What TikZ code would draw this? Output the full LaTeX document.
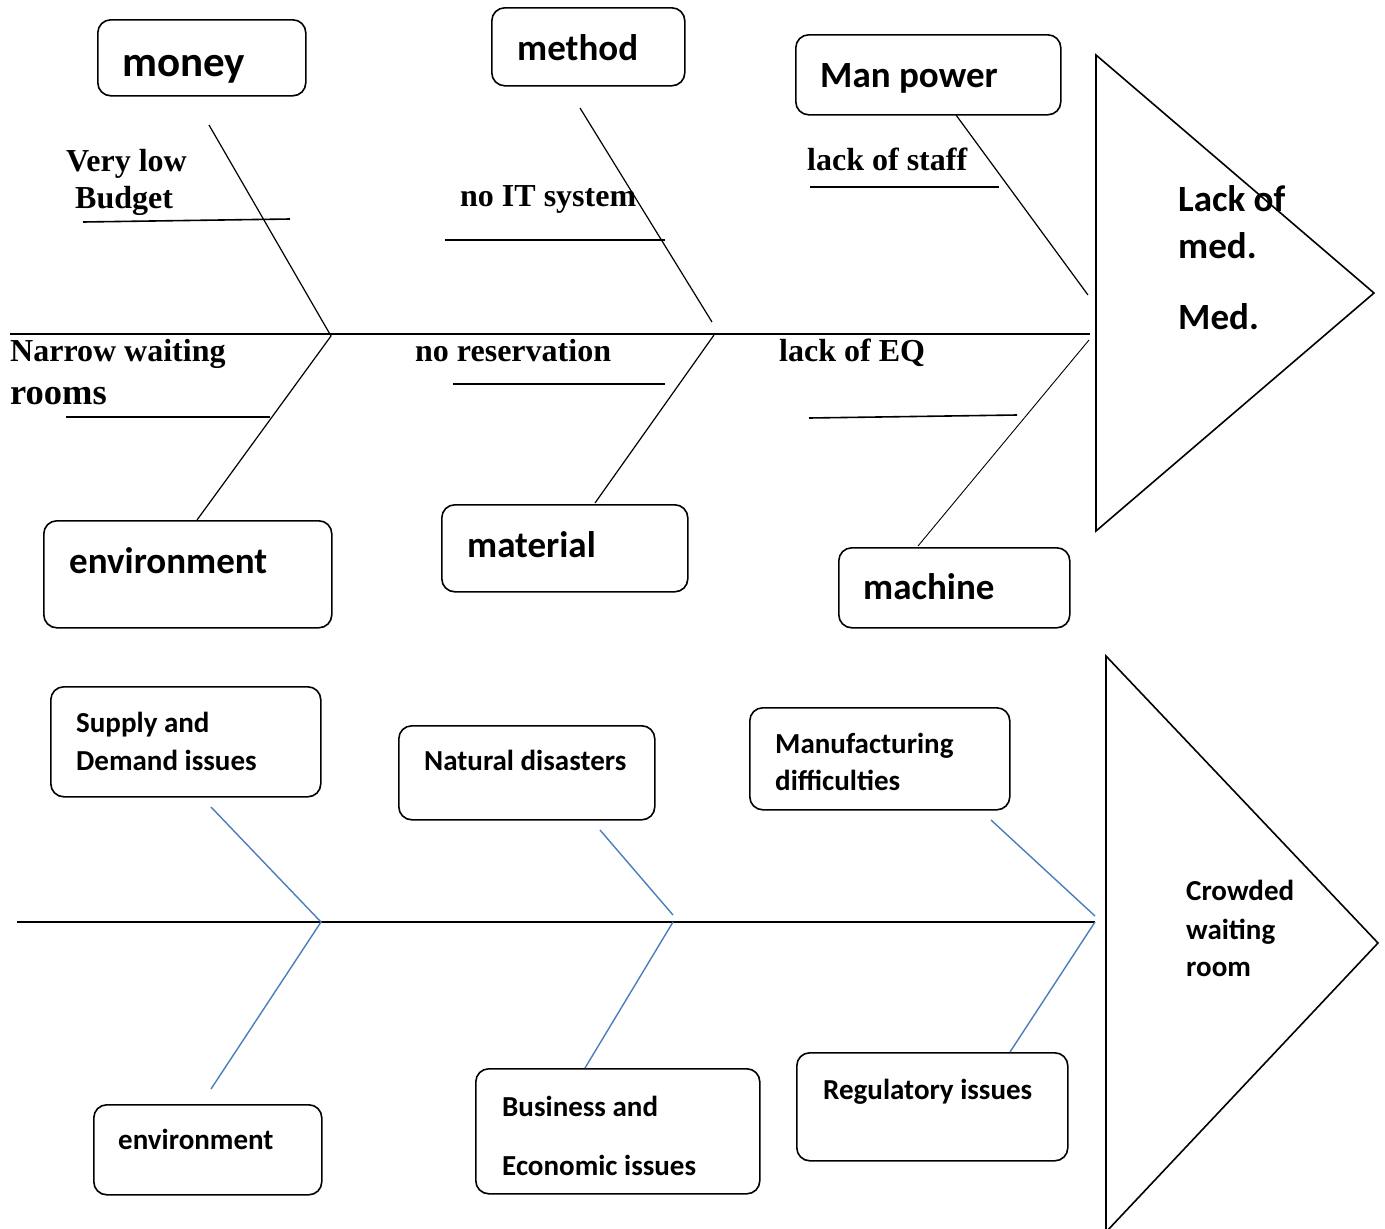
\documentclass[tikz,border=0pt]{standalone}
\usepackage{fontspec}
\setmainfont{Carlito}
\newfontfamily\tnr{Liberation Serif}
\definecolor{boneblue}{HTML}{4A7EBB}
\tikzset{
  box/.style={draw, line width=1.6pt, rounded corners=13pt, inner sep=0pt, anchor=north west},
  bone/.style={line width=1.2pt},
  uline/.style={line width=1.6pt},
  bbone/.style={draw=boneblue, line width=1.4pt},
  spine/.style={line width=1.4pt},
  head/.style={line width=1.6pt, line join=miter},
  big/.style={font=\bfseries\fontsize{37}{44}\selectfont, anchor=base west, inner sep=0pt},
  ser/.style={font=\tnr\bfseries\fontsize{32}{38}\selectfont, anchor=base west, inner sep=0pt},
  sml/.style={font=\bfseries\fontsize{29}{35}\selectfont, anchor=base west, inner sep=0pt}
}
\begin{document}
\begin{tikzpicture}[x=1pt,y=-1pt]
\useasboundingbox (0,0) rectangle (1385,1229);

% ===== Top fishbone =====
% boxes
\node[box, minimum width=208pt, minimum height=76pt] (money) at (97,19) {};
\node[box, minimum width=193pt, minimum height=78pt] (method) at (491,7) {};
\node[box, minimum width=265pt, minimum height=80pt] (manpower) at (795,34) {};
\node[box, minimum width=288pt, minimum height=107pt] (envA) at (43,520) {};
\node[box, minimum width=246pt, minimum height=87pt] (material) at (441,504) {};
\node[box, minimum width=231pt, minimum height=80pt] (machine) at (838,547) {};

\node[big, font=\bfseries\fontsize{43}{50}\selectfont] (tmoney) at (122,76) {money};
\node[big] (tmethod) at (517,60) {method};
\node[big] (tmanpower) at (820,87) {Man power};
\node[big] (tenvA) at (69,573) {environment};
\node[big] (tmaterial) at (467,557) {material};
\node[big] (tmachine) at (863,599) {machine};

% head
\coordinate (hA1) at (1096,55);
\coordinate (hA2) at (1374,293);
\coordinate (hA3) at (1096,531);
\draw[head] (hA1) -- (hA2) -- (hA3) -- cycle;
\node[big] (effA1) at (1178,211) {Lack of};
\node[big] (effA2) at (1178,258) {med.};
\node[big] (effA3) at (1178,329) {Med.};

% spine
\coordinate (sA0) at (10,334);
\coordinate (sA1) at (1090,334);
\draw[spine] (sA0) -- (sA1);

% bones
\coordinate (jA1) at (331,336);
\coordinate (jA2up) at (712,322);
\coordinate (jA2) at (714,335);
\coordinate (jA3up) at (1088,295);
\coordinate (jA3) at (1089,340);
\coordinate (bMoney) at (209,125);
\coordinate (bEnvA) at (197,520);
\coordinate (bMethod) at (580,108);
\coordinate (bMaterial) at (595,503);
\coordinate (bManpower) at (956,115);
\coordinate (bMachine) at (918,546);
\draw[bone] (bMoney) -- (jA1) -- (bEnvA);
\draw[bone] (bMethod) -- (jA2up);
\draw[bone] (jA2) -- (bMaterial);
\draw[bone] (bManpower) -- (jA3up);
\draw[bone, line width=0.9pt] (jA3) -- (bMachine);

% sub-cause lines and texts
\coordinate (u1a) at (83,222); \coordinate (u1b) at (290,219);
\coordinate (u2a) at (66,417); \coordinate (u2b) at (270,417);
\coordinate (u3a) at (445,240); \coordinate (u3b) at (665,240);
\coordinate (u4a) at (453,384); \coordinate (u4b) at (665,384);
\coordinate (u5a) at (810,187); \coordinate (u5b) at (999,187);
\coordinate (u6a) at (809,418); \coordinate (u6b) at (1017,415);
\draw[uline] (u1a) -- (u1b);
\draw[uline] (u2a) -- (u2b);
\draw[uline] (u3a) -- (u3b);
\draw[uline] (u4a) -- (u4b);
\draw[uline] (u5a) -- (u5b);
\draw[uline] (u6a) -- (u6b);

\node[ser] (c1a) at (66,171) {Very low};
\node[ser] (c1b) at (75,208) {Budget};
\node[ser] (c2a) at (10,361) {Narrow waiting};
\node[ser, font=\tnr\bfseries\fontsize{36.5}{42}\selectfont] (c2b) at (10,404) {rooms};
\node[ser] (c3) at (460,206) {no IT system};
\node[ser] (c4) at (415,361) {no reservation};
\node[ser] (c5) at (807,170) {lack of staff};
\node[ser] (c6) at (779,361) {lack of EQ};

% ===== Bottom fishbone =====
\node[box, minimum width=270pt, minimum height=110pt] (supply) at (50,686) {};
\node[box, minimum width=256pt, minimum height=94pt] (natural) at (398,725) {};
\node[box, minimum width=260pt, minimum height=102pt] (manuf) at (749,707) {};
\node[box, minimum width=228pt, minimum height=90pt] (envB) at (93,1104) {};
\node[box, minimum width=284pt, minimum height=125pt] (business) at (475,1068) {};
\node[box, minimum width=271pt, minimum height=108pt] (regul) at (796,1052) {};

\node[sml] (tsup1) at (76,732) {Supply and};
\node[sml] (tsup2) at (76,770) {Demand issues};
\node[sml] (tnat) at (424,770) {Natural disasters};
\node[sml] (tman1) at (775,753) {Manufacturing};
\node[sml] (tman2) at (775,790) {difficulties};
\node[sml] (tenvB) at (118,1149) {environment};
\node[sml] (tbus1) at (502,1116) {Business and};
\node[sml] (tbus2) at (502,1175) {Economic issues};
\node[sml] (treg) at (823,1099) {Regulatory issues};

\coordinate (hB1) at (1106,656);
\coordinate (hB2) at (1378,943);
\coordinate (hB3) at (1106,1232);
\draw[head] (hB1) -- (hB2) -- (hB3) -- cycle;
\node[sml] (effB1) at (1186,900) {Crowded};
\node[sml] (effB2) at (1186,939) {waiting};
\node[sml] (effB3) at (1186,976) {room};

\coordinate (sB0) at (17,922);
\coordinate (sB1) at (1095,922);
\draw[spine, line width=1.6pt] (sB0) -- (sB1);

\coordinate (jB1) at (321,922);
\coordinate (jB2up) at (673,915);
\coordinate (jB2) at (673,922);
\coordinate (jB3up) at (1095,916);
\coordinate (jB3) at (1095,922);
\coordinate (bSupply) at (211,807);
\coordinate (bEnvB) at (211,1089);
\coordinate (bNatural) at (600,830);
\coordinate (bBusiness) at (585,1068);
\coordinate (bManuf) at (991,820);
\coordinate (bRegul) at (1010,1052);
\draw[bbone] (bSupply) -- (jB1) -- (bEnvB);
\draw[bbone] (bNatural) -- (jB2up);
\draw[bbone] (jB2) -- (bBusiness);
\draw[bbone] (bManuf) -- (jB3up);
\draw[bbone] (jB3) -- (bRegul);
\end{tikzpicture}
\end{document}
